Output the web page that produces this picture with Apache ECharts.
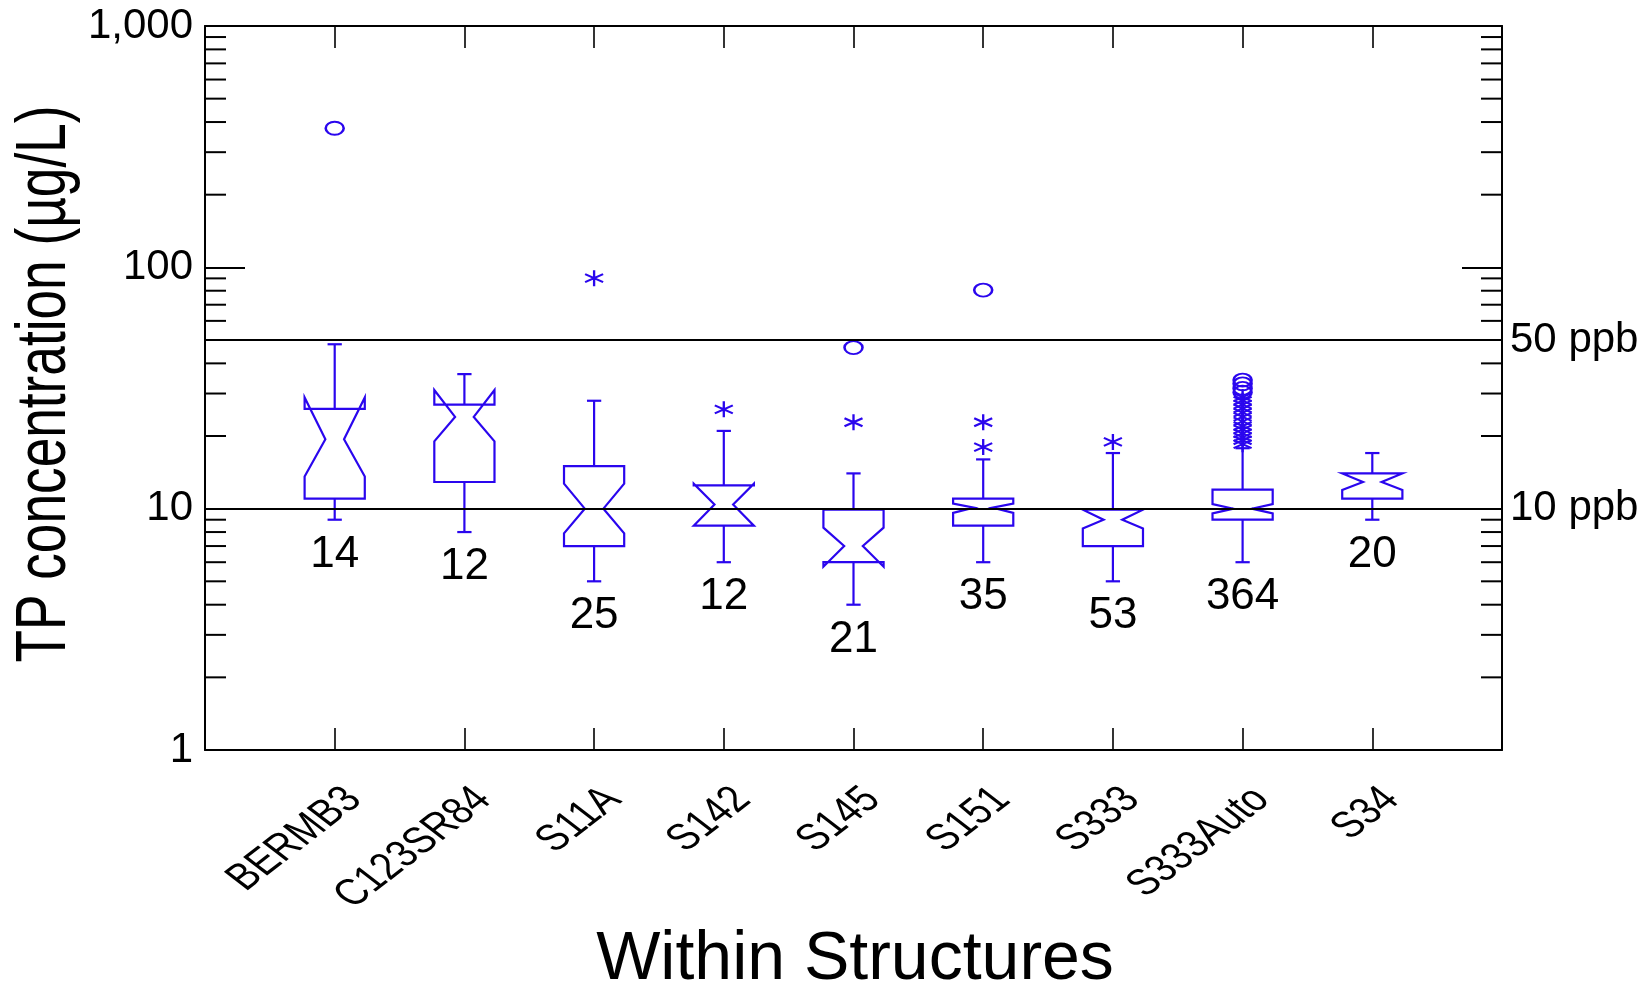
<!DOCTYPE html>
<html>
<head>
<meta charset="utf-8">
<script src="https://cdn.jsdelivr.net/npm/echarts@6/dist/echarts.min.js"></script>
<style>
  html, body { margin: 0; padding: 0; background: #ffffff; }
  #chart { width: 1646px; height: 989px; }
</style>
</head>
<body>
<div id="chart"></div>
<script>
// Structures along the x axis
const categories = ['BERMB3', 'C123SR84', 'S11A', 'S142', 'S145', 'S151', 'S333', 'S333Auto', 'S34'];

// Notched box statistics per structure (TP, µg/L)
const whiskerLow  = [9.0, 8.0, 5.0, 6.0, 4.0, 6.0, 5.0, 6.0, 9.0];
const q1          = [11.0, 12.9, 7.0, 8.5, 6.0, 8.5, 7.0, 9.0, 11.0];
const notchLow    = [13.6, 19.0, 7.9, 8.5, 5.75, 9.6, 8.27, 9.55, 11.95];
const median      = [19.4, 24.0, 10.0, 10.4, 7.0, 10.1, 9.0, 10.0, 12.9];
const notchHigh   = [28.9, 31.0, 12.7, 12.7, 8.34, 10.5, 9.9, 10.45, 14.0];
const q3          = [25.9, 27.0, 15.0, 12.5, 9.9, 11.0, 9.9, 12.0, 14.0];
const whiskerHigh = [48.0, 36.1, 28.0, 21.0, 14.0, 16.0, 17.0, 17.8, 17.0];
const counts      = [14, 12, 25, 12, 21, 35, 53, 364, 20];

// Outside values (asterisks): [structure index, value]
const outsideValues = [
  [2, 90.2], [3, 25.8], [4, 22.8], [5, 22.8], [5, 18.0], [6, 18.9],
  [7, 18.5], [7, 19.2], [7, 19.8], [7, 20.5], [7, 21.3], [7, 22.0], [7, 23.0],
  [7, 24.0], [7, 25.0], [7, 26.0], [7, 27.0], [7, 28.0], [7, 29.0]
];
// Far outside values (circles): [structure index, value]
const farOutsideValues = [
  [0, 377], [4, 46.5], [5, 80.5], [7, 30.4], [7, 31.5], [7, 32.9], [7, 34.1]
];

// Guideline concentrations
const referenceLevels = [10, 50];
const referenceLabels = ['10 ppb', '50 ppb'];

// Log axis labels and minor tick positions
const yTickLabels = { 1: '1', 10: '10', 100: '100', 1000: '1,000' };
const minorTickValues = [2, 3, 4, 5, 6, 7, 8, 9, 20, 30, 40, 50, 60, 70, 80, 90,
                         200, 300, 400, 500, 600, 700, 800, 900];

const BLUE = '#2a06ee';
const FONT = "'Liberation Sans', Arial, Helvetica, sans-serif";

const boxData = categories.map((c, i) => [
  i + 1, whiskerLow[i], q1[i], notchLow[i], median[i], notchHigh[i], q3[i], whiskerHigh[i], counts[i], i
]);

function renderBox(params, api) {
  const x = api.value(0);
  const unit = api.size([1, 0])[0];
  const hw = unit * 0.232;      // half box width
  const ww = hw * 0.31;         // half width at the notch waist
  const cap = unit * 0.055;     // half whisker-cap width
  const y = v => api.coord([x, v])[1];
  const cx = api.coord([x, api.value(4)])[0];
  const yWL = y(api.value(1)), yQ1 = y(api.value(2)), yNL = y(api.value(3));
  const yMed = y(api.value(4)), yNH = y(api.value(5)), yQ3 = y(api.value(6));
  const yWH = y(api.value(7));
  const L = cx - hw, R = cx + hw;
  const stroke = { stroke: BLUE, lineWidth: 2.2, fill: null };
  const line = (x1, y1, x2, y2) => ({ type: 'line', shape: { x1, y1, x2, y2 }, style: stroke });
  return {
    type: 'group',
    children: [
      {
        type: 'polygon',
        shape: {
          points: [
            [L, yQ1], [L, yNL], [cx - ww, yMed], [L, yNH], [L, yQ3],
            [R, yQ3], [R, yNH], [cx + ww, yMed], [R, yNL], [R, yQ1]
          ]
        },
        style: { stroke: BLUE, lineWidth: 2.2, fill: null, lineJoin: 'miter' }
      },
      line(cx, yQ3, cx, yWH),
      line(cx - cap, yWH, cx + cap, yWH),
      line(cx, yQ1, cx, yWL),
      line(cx - cap, yWL, cx + cap, yWL),
      {
        type: 'text',
        x: cx, y: yWL + 13,
        style: {
          text: String(api.value(8)), fill: '#000', font: '44px ' + FONT,
          align: 'center', verticalAlign: 'top'
        }
      }
    ]
  };
}

function renderMinorTicks(params, api) {
  const v = api.value(1);
  const l = api.coord([0, v]);
  const r = api.coord([10, v]);
  const st = { stroke: '#000', lineWidth: 2 };
  return {
    type: 'group',
    children: [
      { type: 'line', shape: { x1: l[0], y1: l[1], x2: l[0] + 21, y2: l[1] }, style: st },
      { type: 'line', shape: { x1: r[0] - 21, y1: r[1], x2: r[0], y2: r[1] }, style: st }
    ]
  };
}

// Slanted category labels
function renderCategoryLabel(params, api) {
  const p = api.coord([api.value(0), 1]);
  const i = api.value(2);
  return {
    type: 'text',
    x: p[0] + 19, y: p[1] + 44,
    rotation: 0.6559,
    scaleX: 0.951, scaleY: 1.1207,
    skewX: 0.2593,
    style: {
      text: categories[i], fill: '#000', font: '38px ' + FONT,
      align: 'right', verticalAlign: 'middle'
    }
  };
}

const axisLineStyle = { color: '#000', width: 2 };

const xAxisBase = {
  type: 'value', min: 0, max: 10, interval: 1,
  axisLine: { show: true, onZero: false, lineStyle: axisLineStyle },
  axisTick: { show: true, inside: true, length: 22, lineStyle: { color: '#000', width: 1.6 } },
  axisLabel: { show: false },
  splitLine: { show: false }
};

const yAxisBase = {
  type: 'log', logBase: 10, min: 1, max: 1000,
  axisLine: { show: true, onZero: false, lineStyle: axisLineStyle },
  axisTick: { show: true, inside: true, length: 40, lineStyle: { color: '#000', width: 2 } },
  splitLine: { show: false },
  minorTick: { show: false }
};

const chart = echarts.init(document.getElementById('chart'));
chart.setOption({
  animation: false,
  backgroundColor: '#ffffff',
  grid: { left: 205, right: 144, top: 26, bottom: 239, containLabel: false },
  xAxis: [
    Object.assign({}, xAxisBase, { position: 'bottom' }),
    Object.assign({}, xAxisBase, { position: 'top' })
  ],
  yAxis: [
    Object.assign({}, yAxisBase, {
      position: 'left',
      axisLabel: {
        show: true, margin: 12, color: '#000', fontSize: 42, fontFamily: FONT,
        formatter: v => yTickLabels[Math.round(v)] || ''
      }
    }),
    Object.assign({}, yAxisBase, { position: 'right', axisLabel: { show: false } })
  ],
  graphic: [
    {
      type: 'text', x: 46, y: 384, rotation: Math.PI / 2, scaleX: 0.76,
      style: {
        text: 'TP concentration (µg/L)', fill: '#000', font: '70px ' + FONT,
        align: 'center', verticalAlign: 'middle'
      }
    },
    {
      type: 'text', x: 855, y: 960,
      style: {
        text: 'Within Structures', fill: '#000', font: '68px ' + FONT,
        align: 'center', verticalAlign: 'middle'
      }
    }
  ],
  series: [
    {
      type: 'line', xAxisIndex: 0, yAxisIndex: 0, data: [], silent: true,
      markLine: {
        silent: true, symbol: 'none', animation: false,
        lineStyle: { color: '#000', width: 1.8, type: 'solid' },
        label: {
          show: true, position: 'end', distance: 8, color: '#000',
          fontSize: 42, fontFamily: FONT,
          formatter: p => referenceLabels[referenceLevels.indexOf(p.value)]
        },
        data: referenceLevels.map(v => ({ yAxis: v }))
      }
    },
    {
      type: 'custom', xAxisIndex: 0, yAxisIndex: 0, clip: false, silent: true,
      renderItem: renderMinorTicks,
      data: minorTickValues.map(v => [0, v])
    },
    {
      type: 'custom', xAxisIndex: 0, yAxisIndex: 0, clip: false, silent: true,
      renderItem: renderBox,
      encode: { x: 0, y: [1, 2, 3, 4, 5, 6, 7] },
      data: boxData
    },
    {
      type: 'custom', xAxisIndex: 0, yAxisIndex: 0, clip: false, silent: true,
      renderItem: renderCategoryLabel,
      encode: { x: 0, y: 1 },
      data: categories.map((c, i) => [i + 1, 1, i])
    },
    {
      type: 'scatter', xAxisIndex: 0, yAxisIndex: 0, silent: true,
      symbol: 'path://M9,0 L9,16 M0,4 L18,12 M0,12 L18,4',
      symbolSize: [18, 16],
      itemStyle: { color: 'none', borderColor: BLUE, borderWidth: 2.2, opacity: 1 },
      data: outsideValues.map(d => [d[0] + 1, d[1]])
    },
    {
      type: 'scatter', xAxisIndex: 0, yAxisIndex: 0, silent: true,
      symbol: 'circle',
      symbolSize: [18, 13],
      itemStyle: { color: 'none', borderColor: BLUE, borderWidth: 2.2, opacity: 1 },
      data: farOutsideValues.map(d => [d[0] + 1, d[1]])
    }
  ]
});
</script>
</body>
</html>
